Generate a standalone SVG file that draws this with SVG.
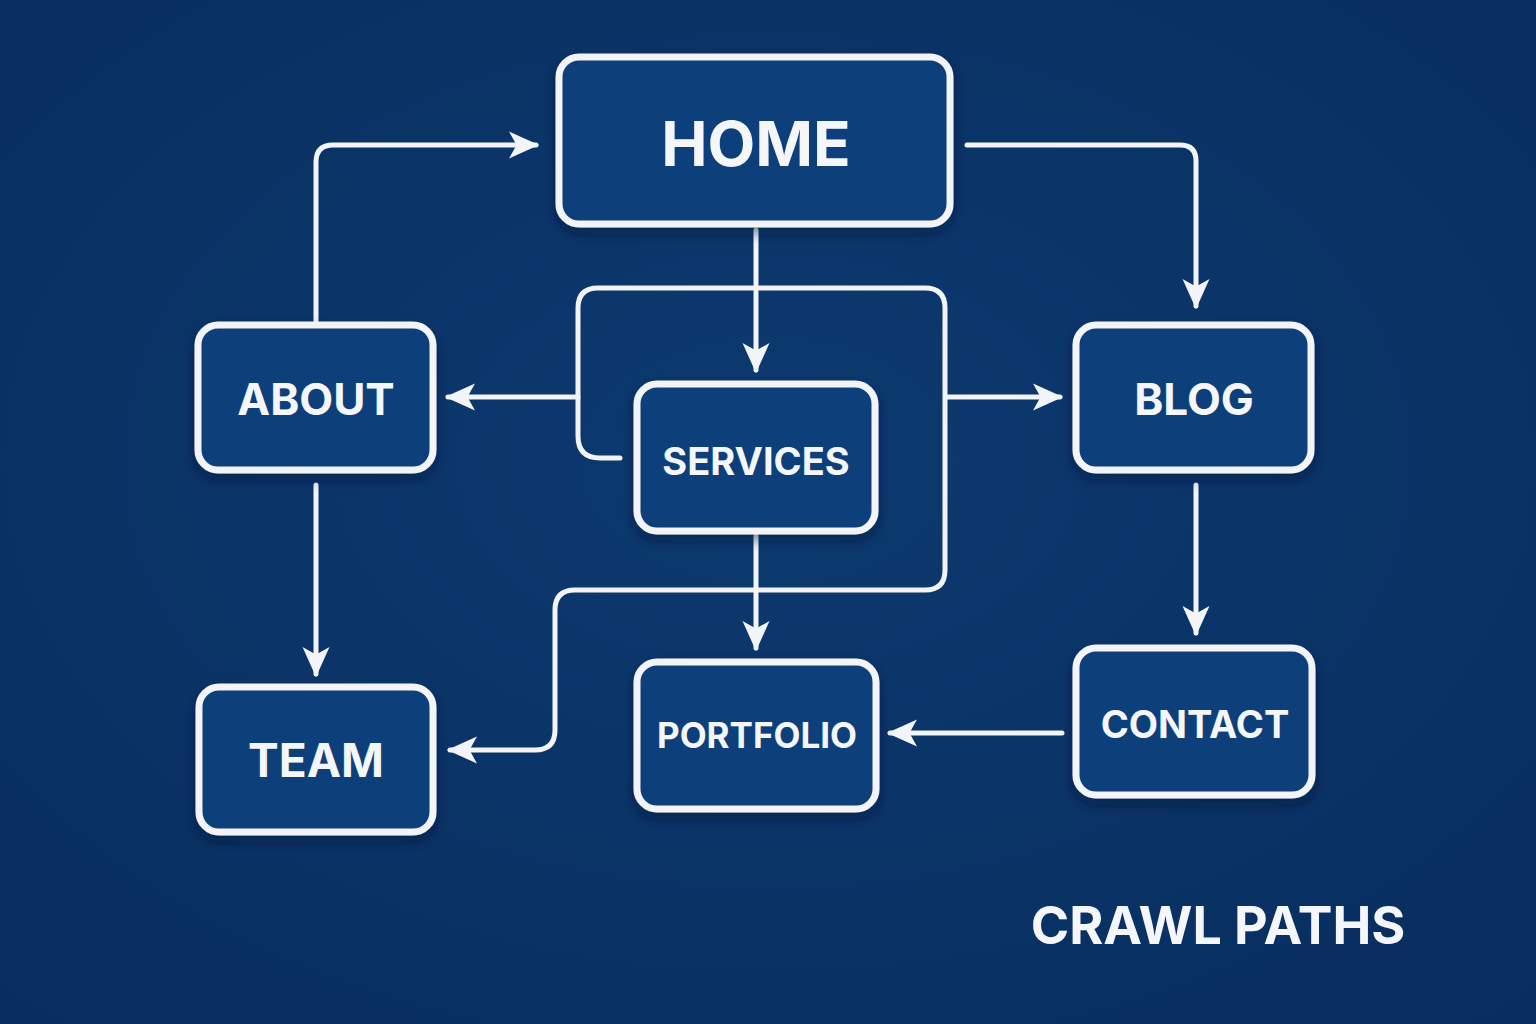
<svg xmlns="http://www.w3.org/2000/svg" width="1536" height="1024" viewBox="0 0 1536 1024">
<defs>
<radialGradient id="bg" cx="50%" cy="45%" r="75%"><stop offset="0" stop-color="#0c3a70"/><stop offset="1" stop-color="#092d5e"/></radialGradient>
<filter id="sh" x="-20%" y="-20%" width="140%" height="150%"><feDropShadow dx="0" dy="6" stdDeviation="6" flood-color="#021530" flood-opacity="0.5"/></filter>
<marker id="ah" viewBox="0 0 20 20" refX="18" refY="10" markerWidth="6" markerHeight="6" markerUnits="strokeWidth" orient="auto"><path d="M0 1 L20 10 L0 19 L5 10 Z" fill="#f2f4f8"/></marker>
</defs>
<style>
.n{fill:#0d3f7a;stroke:#f2f4f8;stroke-width:7;filter:url(#sh)}
.t{font-family:Inter,"Noto Sans",sans-serif;font-weight:700;fill:#f4f6fa;text-anchor:middle;dominant-baseline:central}
.c{fill:none;stroke:#f2f4f8;stroke-width:5;stroke-linecap:round}
</style>
<rect width="1536" height="1024" fill="url(#bg)"/>
<g id="connectors">
<path class="c" d="M316 322 V162 Q316 145 333 145 H536" marker-end="url(#ah)"/>
<path class="c" d="M967 145 H1180 Q1196 145 1196 161 V306" marker-end="url(#ah)"/>
<path class="c" d="M756 230 V370" marker-end="url(#ah)"/>
<path class="c" d="M578 397 H448" marker-end="url(#ah)"/>
<path class="c" d="M620 458 H600 Q578 458 578 436 V308 Q578 288 598 288 H925 Q945 288 945 308 V570 Q945 590 925 590 H575 Q555 590 555 610 V730 Q555 750 535 750 H450" marker-end="url(#ah)"/>
<path class="c" d="M947 397 H1060" marker-end="url(#ah)"/>
<path class="c" d="M756 536 V648" marker-end="url(#ah)"/>
<path class="c" d="M316 485 V674" marker-end="url(#ah)"/>
<path class="c" d="M1196 485 V633" marker-end="url(#ah)"/>
<path class="c" d="M1062 733 H890" marker-end="url(#ah)"/>
</g>
<g id="home"><rect class="n" x="559" y="57" width="391" height="167" rx="20"/><text class="t" x="756" y="143" font-size="62">HOME</text></g>
<g id="about"><rect class="n" x="198" y="325" width="235" height="145" rx="20"/><text class="t" x="316" y="399" font-size="44">ABOUT</text></g>
<g id="services"><rect class="n" x="637" y="384" width="238" height="147" rx="20"/><text class="t" x="756" y="461" font-size="38">SERVICES</text></g>
<g id="blog"><rect class="n" x="1076" y="325" width="235" height="145" rx="20"/><text class="t" x="1194" y="399" font-size="44">BLOG</text></g>
<g id="team"><rect class="n" x="199" y="687" width="234" height="145" rx="20"/><text class="t" x="316" y="760" font-size="46">TEAM</text></g>
<g id="portfolio"><rect class="n" x="637" y="662" width="239" height="147" rx="20"/><text class="t" x="757" y="735" font-size="35">PORTFOLIO</text></g>
<g id="contact"><rect class="n" x="1076" y="648" width="236" height="147" rx="20"/><text class="t" x="1195" y="724" font-size="38">CONTACT</text></g>
<text class="t" x="1218" y="925" font-size="52">CRAWL PATHS</text>
</svg>
